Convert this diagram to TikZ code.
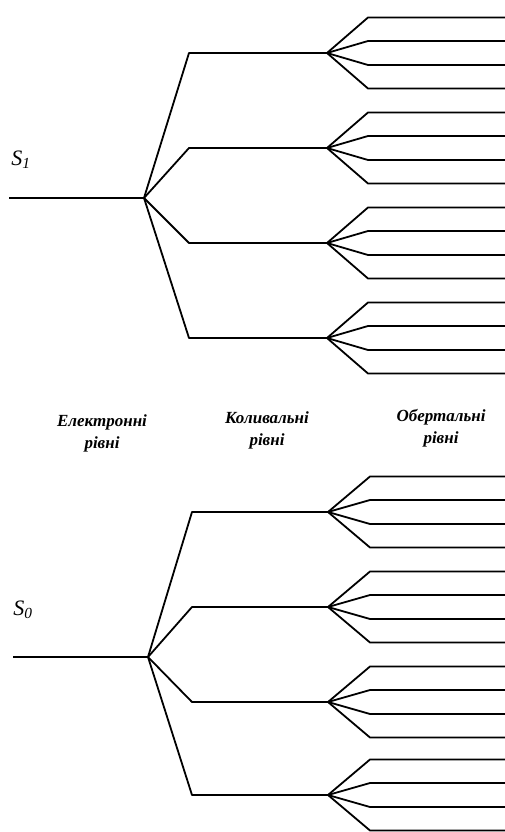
\documentclass[tikz,border=0pt]{standalone}
\usepackage{fontspec}
\setmainfont{Liberation Serif}
\begin{document}
\begin{tikzpicture}[x=1pt,y=-1pt,line width=1.8pt,line join=round,
  caption/.style={font=\fontsize{17}{22}\selectfont\bfseries\itshape,align=center},
  state/.style={font=\fontsize{22}{24}\selectfont\itshape}]
  \useasboundingbox (0,0) rectangle (505,832);
  % two electronic states, each with vibrational and rotational sublevels
  \foreach \s/\xs/\xe/\ye/\xv/\xr/\xa/\ylist in
      {1/9/144/198/189/327/368/{53,148,243,338},
       0/13/148/657/192/328/370/{512,607,702,795}} {
    \coordinate (s\s) at (\xs,\ye);
    \coordinate (e\s) at (\xe,\ye);
    \draw (s\s) -- (e\s);
    \foreach \y [count=\v] in \ylist {
      \coordinate (v\s\v) at (\xv,\y);
      \coordinate (r\s\v) at (\xr,\y);
      \draw (e\s) -- (v\s\v) -- (r\s\v);
      \foreach \d [count=\k] in {-35.5,-12,12,35.5} {
        \coordinate (a\s\v\k) at (\xa,\y+\d);
        \coordinate (b\s\v\k) at (505,\y+\d);
        \draw (r\s\v) -- (a\s\v\k) -- (b\s\v\k);
      }
    }
  }
  \node[state] (S1) at (21,160) {S\textsubscript{1}};
  \node[state] (S0) at (23,610) {S\textsubscript{0}};
  \node[caption] (el) at (102,433) {Електронні\\рівні};
  \node[caption] (vib) at (267,430) {Коливальні\\рівні};
  \node[caption] (rot) at (441,428) {Обертальні\\рівні};
\end{tikzpicture}
\end{document}
